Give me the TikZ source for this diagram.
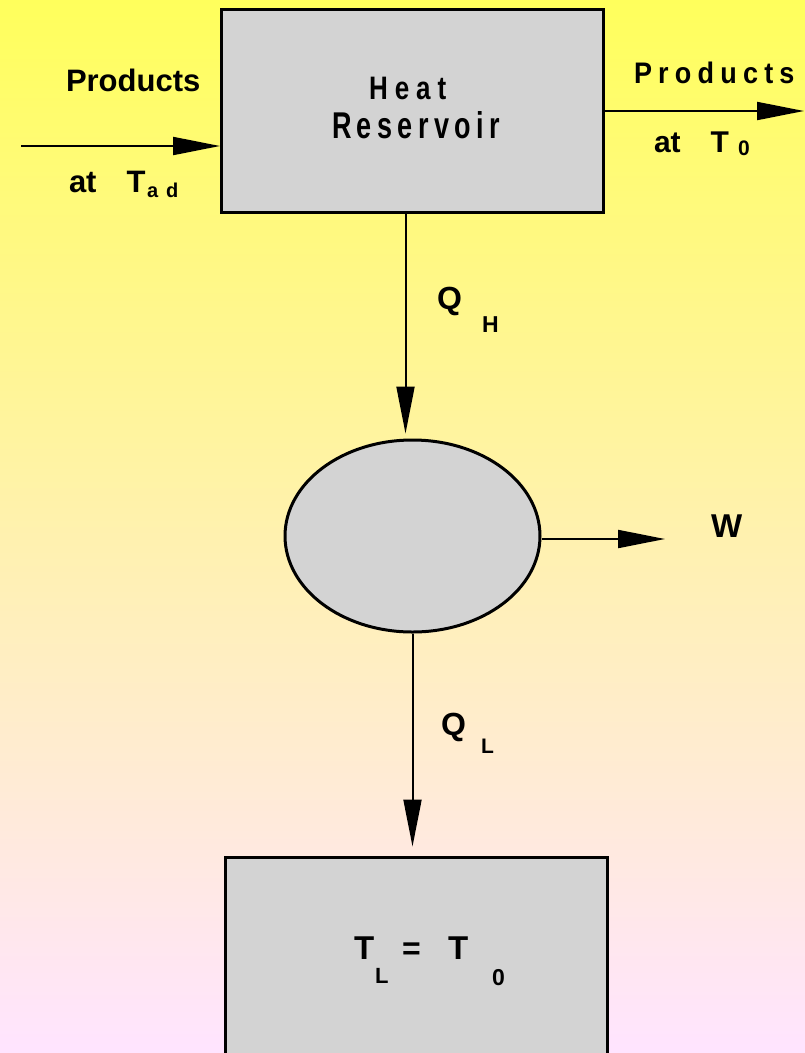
\documentclass[tikz,border=0pt]{standalone}
\usepackage{graphicx}
\usepackage{fontspec}
\setmainfont{Liberation Sans}
\newfontfamily\spheat[LetterSpace=27]{Liberation Sans}
\newfontfamily\spresv[LetterSpace=20]{Liberation Sans}
\newfontfamily\spprod[LetterSpace=23]{Liberation Sans}
\usetikzlibrary{arrows.meta,shapes.geometric}
\newcommand\myfs[1]{\fontsize{#1}{#1}\selectfont}
\definecolor{bgtop}{RGB}{255,255,92}
\definecolor{bgbot}{RGB}{255,228,255}
\definecolor{boxgray}{RGB}{211,211,211}
\tikzset{
  blockbox/.style={draw=black, line width=3pt, fill=boxgray, rectangle, inner sep=0pt},
  engine/.style={draw=black, line width=3pt, fill=boxgray, ellipse, inner sep=0pt},
  arr/.style={line width=2pt, -{Triangle[length=47pt,width=18pt]}},
  lbl/.style={inner sep=0pt, outer sep=0pt, anchor=base west, font=\bfseries}
}
\begin{document}
\begin{tikzpicture}[x=1pt,y=-1pt]
\useasboundingbox (0,0) rectangle (805,1053);
\shade[top color=bgtop, bottom color=bgbot] (0,0) rectangle (805,1053);

% shapes
\node[blockbox, minimum width=382pt, minimum height=203pt] (hr) at (412.5,110.5) {};
\node[engine, minimum width=255pt, minimum height=192pt] (eng) at (412.5,536) {};
\node[blockbox, minimum width=382pt, minimum height=220pt] (lo) at (416,967) {};

% free ends
\coordinate (inL) at (21,146);
\coordinate (outR) at (804,111);
\coordinate (wtip) at (665,539);

% connectors
\draw[arr] (inL) -- (inL -| hr.west);
\draw[arr] (outR -| hr.east) -- (outR);
\draw[arr] ([xshift=-7pt]hr.south) -- ([xshift=-7pt,yshift=5pt]eng.north);
\draw[arr] (eng.east |- wtip) -- (wtip);
\draw[arr] (eng.south) -- ([yshift=9pt]lo.north -| eng.south);

% labels
\node[lbl, font=\bfseries\myfs{31}] (pin) at (66,91) {Products};
\node[lbl, font=\bfseries\myfs{31}] (atin) at (69,192) {at\hspace{30pt}T};
\node[lbl, font=\bfseries\myfs{20}] (adsub) at (147,197) {a\hspace{8pt}d};

\node[lbl, font=\bfseries\spprod\myfs{27}] (pout) at (634,83) {\scalebox{1}[1.1]{Products}};
\node[lbl, font=\bfseries\myfs{30}] (atout) at (654,152) {at\hspace{30pt}T};
\node[lbl, font=\bfseries\myfs{21}] (zsub) at (738,155) {0};

\node[lbl, font=\bfseries\spheat\myfs{26}] (heat) at (369,99) {\scalebox{1}[1.25]{Heat}};
\node[lbl, font=\bfseries\spresv\myfs{27}] (resv) at (332,138) {\scalebox{1}[1.38]{Reservoir}};

\node[lbl, font=\bfseries\myfs{32}] (qh) at (437,309) {Q};
\node[lbl, font=\bfseries\myfs{23}] (hsub) at (482,332) {H};

\node[lbl, font=\bfseries\myfs{33}] (w) at (711,537) {W};

\node[lbl, font=\bfseries\myfs{32}] (ql) at (441,735) {Q};
\node[lbl, font=\bfseries\myfs{21}] (lsub) at (481,753) {L};

\node[lbl, font=\bfseries\myfs{33}] (tl) at (354,959) {T};
\node[lbl, font=\bfseries\myfs{22}] (tlsub) at (375,983) {L};
\node[lbl, font=\bfseries\myfs{32}] (eq) at (402,959) {=};
\node[lbl, font=\bfseries\myfs{33}] (t0) at (448,959) {T};
\node[lbl, font=\bfseries\myfs{23}] (t0sub) at (492,985) {0};
\end{tikzpicture}
\end{document}
